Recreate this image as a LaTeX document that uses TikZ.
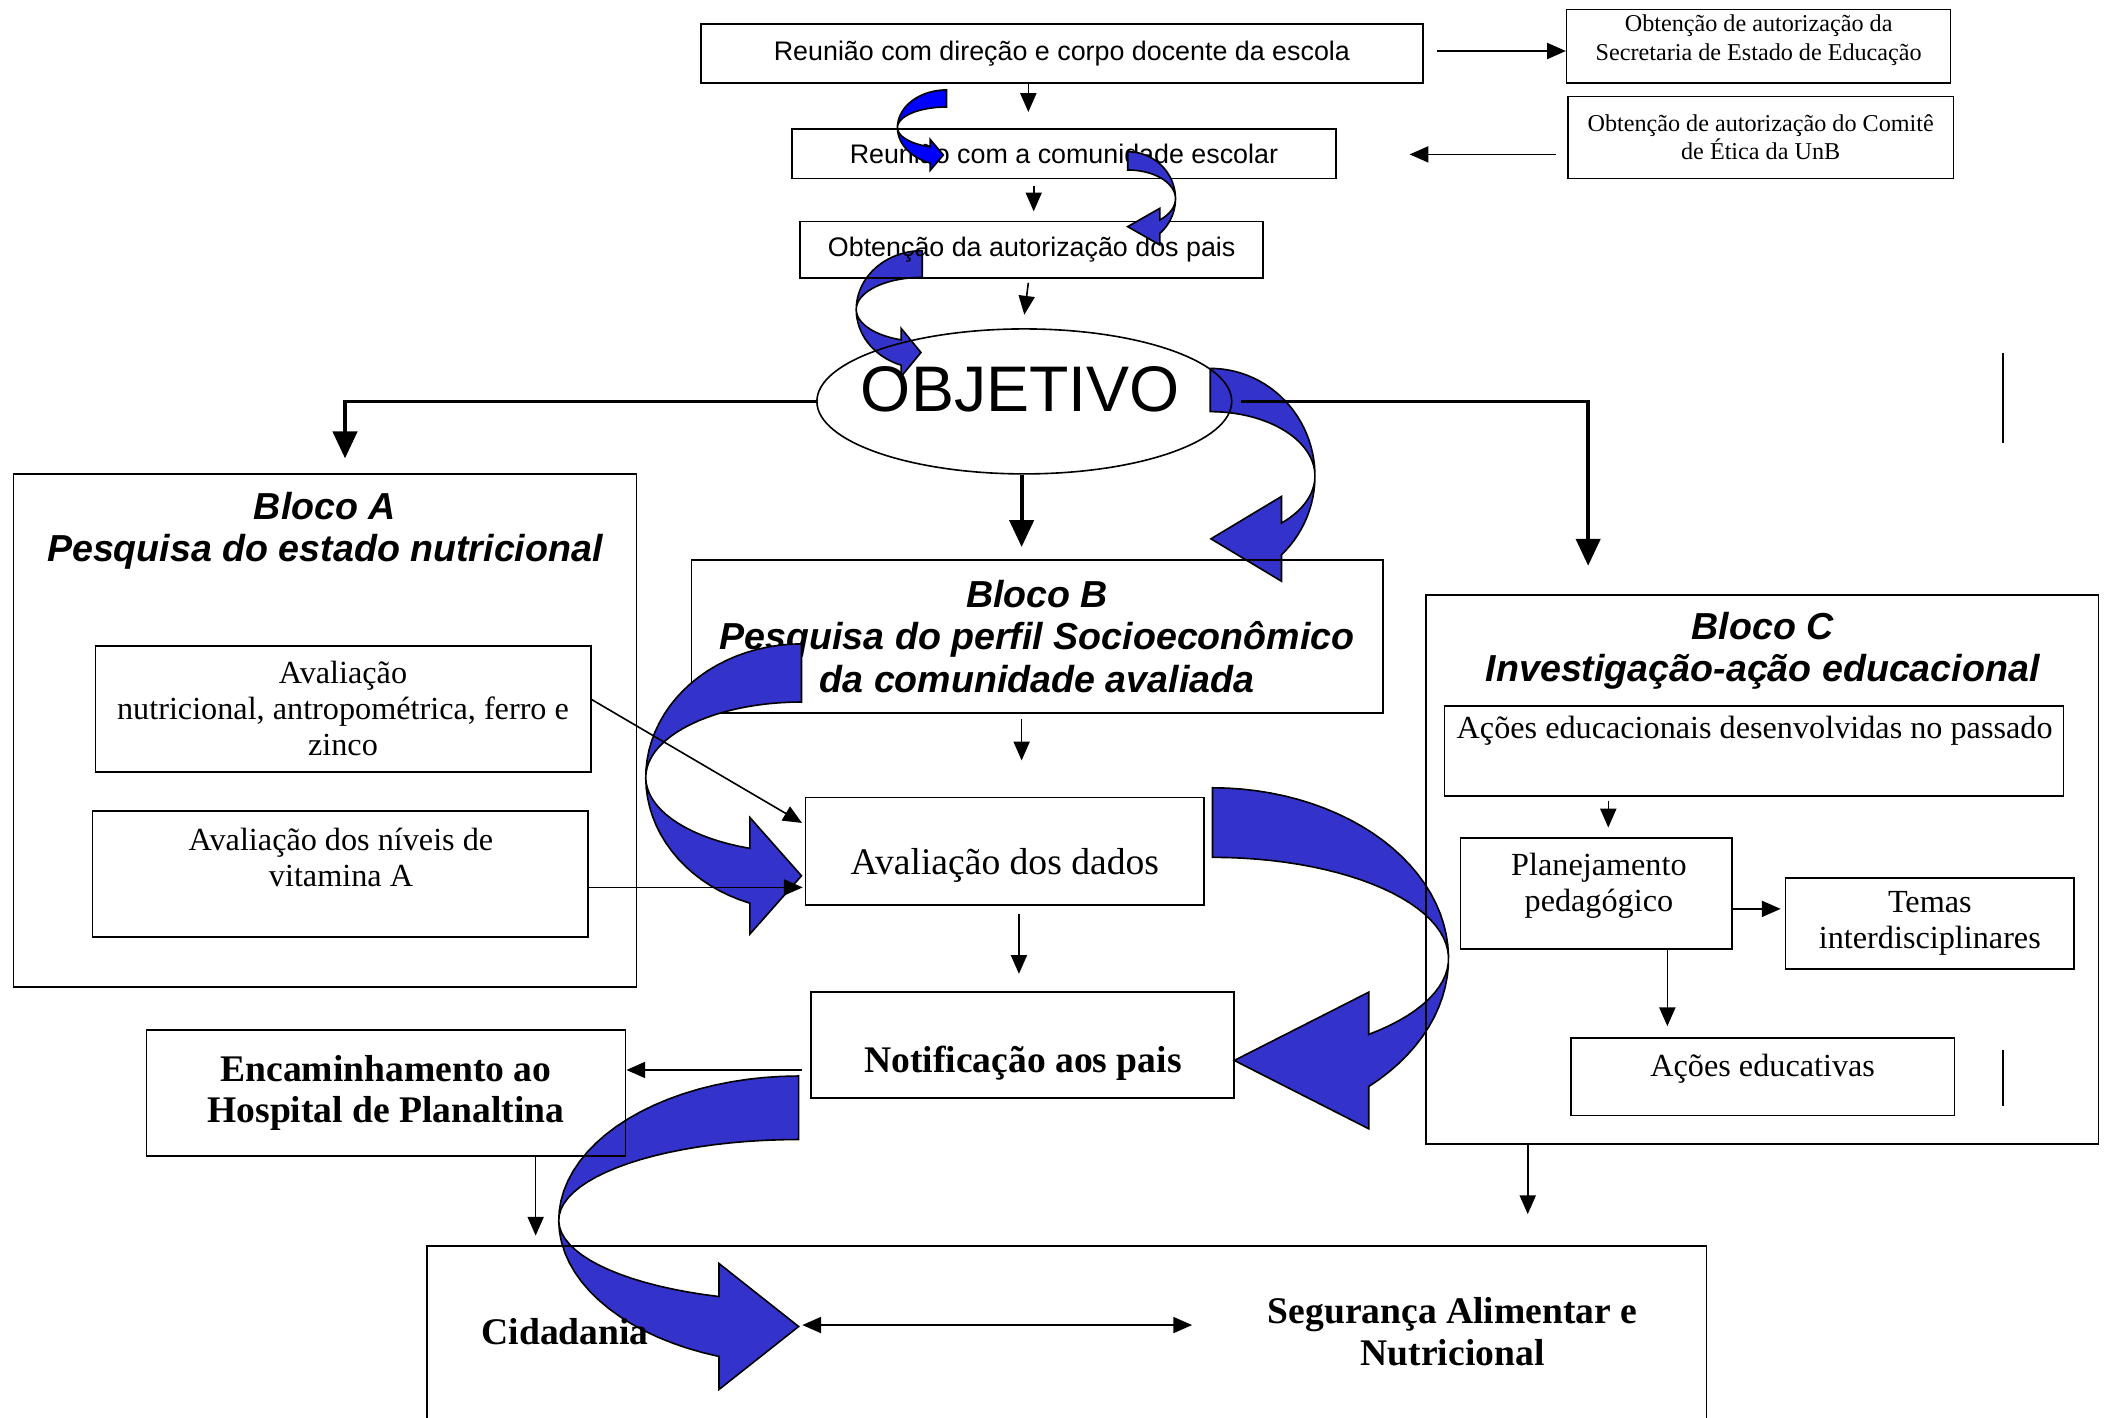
\documentclass[tikz,border=0pt]{standalone}
\usepackage{fontspec}
\setmainfont{Liberation Serif}
\setsansfont{Liberation Sans}
\usetikzlibrary{arrows.meta,shapes.geometric}
\definecolor{arrowblue}{RGB}{51,51,204}
\definecolor{brightblue}{RGB}{0,0,255}
\newcommand{\curvarrow}[9]{%
  \pgfmathsetmacro{\tend}{360-acos((#7-(#2))/(#4))}%
  \pgfmathsetmacro{\ymid}{#3-0.5*(#5+#6)*sin(\tend)}%
  \filldraw[fill=#1, draw=black, line width=0.6pt]
    plot[domain=90:\tend, samples=40, variable=\ang] ({#2+(#4)*cos(\ang)},{#3-(#5)*sin(\ang)})
    -- (#7,\ymid+#9) -- (#8,\ymid) -- (#7,\ymid-#9)
    -- plot[domain=\tend:90, samples=40, variable=\ang] ({#2+(#4)*cos(\ang)},{#3-(#6)*sin(\ang)})
    -- cycle;}
\begin{document}
\begin{tikzpicture}[x=0.5pt,y=-0.5pt,
    box/.style={draw, line width=0.6pt, inner sep=0pt},
    link/.style={-{Triangle[length=7pt,width=6pt]}, line width=0.6pt},
    biglink/.style={-{Triangle[length=10pt,width=9pt]}, line width=1.4pt},
    titletxt/.style={font=\sffamily\bfseries\itshape\fontsize{14}{15.75}\selectfont, align=center, inner sep=0pt},
    sanstxt/.style={font=\sffamily\fontsize{10}{12}\selectfont},
    smalltxt/.style={font=\fontsize{9}{10.5}\selectfont, align=center, inner sep=0pt},
    seriftxt/.style={font=\fontsize{12}{13.4}\selectfont, align=center, inner sep=0pt},
    boldtxt/.style={font=\bfseries\fontsize{14}{15.5}\selectfont, align=center, inner sep=0pt}]
\useasboundingbox (0,0) rectangle (1568,1056);

\curvarrow{arrowblue}{687}{230.5}{49.2}{43.8}{23.9}{671.2}{686}{18}
\curvarrow{arrowblue}{901.5}{354.5}{-78}{80.1}{47.9}{954.6}{902}{31.6}
\curvarrow{arrowblue}{903.2}{714}{-175.8}{127.2}{75.4}{1019.6}{919.4}{50.9}
\curvarrow{arrowblue}{594.9}{909}{178.7}{107.5}{60.2}{535.6}{594.9}{46.9}

\node[box, sanstxt, minimum width=269pt, minimum height=22pt] (reuniao) at (791,40) {Reunião com direção e corpo docente da escola};
\node[box, minimum width=143pt, minimum height=27.5pt] (secretaria) at (1310,34.5) {};
\node[smalltxt] (secretariatxt) at (1310,30) {Obtenção de autorização da\\Secretaria de Estado de Educação};
\node[box, smalltxt, minimum width=143.5pt, minimum height=30.5pt] (comite) at (1311.5,102.5) {Obtenção de autorização do Comitê\\de Ética da UnB};
\node[box, sanstxt, minimum width=202.5pt, minimum height=18.5pt] (comunidade) at (792.5,114.5) {Reunião com a comunidade escolar};
\node[box, sanstxt, minimum width=172.5pt, minimum height=21pt] (pais) at (768.5,186) {Obtenção da autorização dos pais};
\coordinate (comiteend) at (1050,115);
\node[draw, ellipse, line width=0.6pt, inner sep=0pt, minimum width=154.5pt, minimum height=54pt] (objetivo) at (763,299) {};
\node[font=\sffamily\fontsize{24}{28}\selectfont, inner sep=0pt] (objtxt) at (760,290) {OBJETIVO};

\node[box, minimum width=232pt, minimum height=191pt] (blocoA) at (242,544) {};
\node[titletxt] (blocoAtit) at (242,395.5) {Bloco A\\Pesquisa do estado nutricional};
\node[box, seriftxt, minimum width=184.5pt, minimum height=47pt] (avalA) at (255.5,528) {Avaliação\\nutricional, antropométrica, ferro e\\zinco};
\node[box, minimum width=184.5pt, minimum height=47pt] (vitA) at (253.5,651) {};
\node[seriftxt] (vitAtxt) at (254,638.5) {Avaliação dos níveis de\\vitamina A};

\node[box, titletxt, minimum width=257.5pt, minimum height=57pt] (blocoB) at (772.5,474) {Bloco B\\Pesquisa do perfil Socioeconômico\\da comunidade avaliada};
\node[box, minimum width=148.5pt, minimum height=40pt] (dados) at (748.5,634) {};
\node[font=\fontsize{14}{16}\selectfont, inner sep=0pt] (dadostxt) at (748.5,645) {Avaliação dos dados};
\node[box, minimum width=157.5pt, minimum height=39.5pt] (notif) at (761.5,778.5) {};
\node[boldtxt] (notiftxt) at (762,792) {Notificação aos pais};
\node[box, boldtxt, minimum width=178.5pt, minimum height=47pt] (hospital) at (287.5,814) {Encaminhamento ao\\Hospital de Planaltina};

\node[box, minimum width=250.5pt, minimum height=204.5pt] (blocoC) at (1312.5,647.5) {};
\node[titletxt] (blocoCtit) at (1313,485) {Bloco C\\Investigação-ação educacional};
\node[box, minimum width=230.5pt, minimum height=33.5pt] (passado) at (1306.5,559.5) {};
\node[seriftxt] (passadotxt) at (1307,544) {Ações educacionais desenvolvidas no passado};
\node[box, minimum width=101pt, minimum height=41.5pt] (planej) at (1189,665.5) {};
\node[seriftxt] (planejtxt) at (1191,659.5) {Planejamento\\pedagógico};
\node[box, seriftxt, minimum width=107.5pt, minimum height=34pt] (temas) at (1437.5,688) {Temas\\interdisciplinares};
\node[box, minimum width=143pt, minimum height=29pt] (educativas) at (1313,802) {};
\node[seriftxt] (educativastxt) at (1313,796) {Ações educativas};

\node[box, minimum width=476.5pt, minimum height=72pt] (cidadania) at (794.5,1000) {};
\node[boldtxt] (cidtxt) at (421,992) {Cidadania};
\node[boldtxt] (segtxt) at (1082,992) {Segurança Alimentar e\\Nutricional};

\draw[line width=0.8pt] (1492,263) -- (1492,330);
\draw[line width=0.8pt] (1492,782) -- (1492,824);

\curvarrow{brightblue}{705}{95}{36.5}{28}{15.3}{692.8}{702.7}{11.6}
\curvarrow{arrowblue}{840}{148}{-35.6}{35}{21.4}{864}{840}{13.7}
\curvarrow{arrowblue}{597}{579}{116}{99.4}{56.1}{558.6}{597}{43.4}

\draw[link] ([xshift=5pt,yshift=1pt]reuniao.east) -- ([yshift=-1.75pt]secretaria.west);
\draw[link] ([xshift=-4pt,yshift=-6.25pt]comite.west) -- (comiteend);
\draw[link] ([xshift=-12.5pt]reuniao.south) -- ([xshift=-13.25pt,yshift=6pt]comunidade.north);
\draw[link] ([xshift=-11.25pt,yshift=-2.5pt]comunidade.south) -- ([xshift=0.75pt,yshift=3.5pt]pais.north);
\draw[link] ([xshift=-1.25pt,yshift=-1.5pt]pais.south) -- ([yshift=5pt]objetivo.north);
\draw[biglink] (objetivo.west) -| ([xshift=7.5pt,yshift=5.5pt]blocoA.north);
\draw[biglink] ([xshift=3pt]objetivo.east) -| ([xshift=-64.75pt,yshift=10.5pt]blocoC.north);
\draw[biglink] ([xshift=-1pt]objetivo.south) -- ([xshift=-5.75pt,yshift=4.5pt]blocoB.north);
\draw[link] ([xshift=-5.75pt,yshift=-2pt]blocoB.south) -- ([xshift=6.25pt,yshift=13.5pt]dados.north);
\draw[link] ([yshift=3.5pt]avalA.east) -- ([xshift=-1pt,yshift=10.5pt]dados.west);
\draw[link] ([yshift=-5pt]vitA.east) -- ([xshift=-0.75pt,yshift=-13.5pt]dados.west);
\draw[link] ([xshift=5.25pt,yshift=-3pt]dados.south) -- ([xshift=-1.25pt,yshift=6.5pt]notif.north);
\draw[link] ([xshift=-3pt,yshift=-9.25pt]notif.west) -- ([yshift=8.5pt]hospital.east);
\draw[link] ([xshift=55.75pt]hospital.south) -- ([xshift=-197.75pt,yshift=3.5pt]cidadania.north);
\draw[link] ([xshift=-87.25pt]blocoC.south) -- ([xshift=171.75pt,yshift=11.5pt]cidadania.north);
\draw[link] ([xshift=-54.25pt,yshift=-1.5pt]passado.south) -- ([xshift=4.5pt,yshift=3.5pt]planej.north);
\draw[link] ([yshift=-5.75pt]planej.east) -- ([xshift=-1.5pt,yshift=5.5pt]temas.west);
\draw[link] ([xshift=26.5pt]planej.south) -- ([xshift=-35.5pt,yshift=4pt]educativas.north);
\draw[{Triangle[length=7pt,width=6pt]}-{Triangle[length=7pt,width=6pt]}, line width=0.6pt] ([xshift=57pt,yshift=2.5pt]cidtxt.east) -- ([xshift=-28pt,yshift=2.5pt]segtxt.west);
\end{tikzpicture}
\end{document}
